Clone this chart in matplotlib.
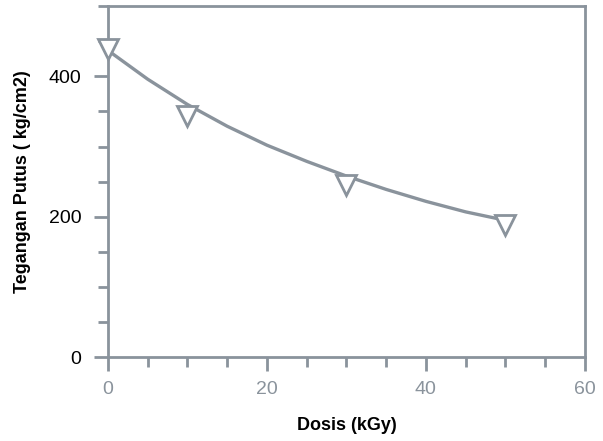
import numpy as np
import matplotlib
matplotlib.use('Agg')
import matplotlib.pyplot as plt
from matplotlib.ticker import MultipleLocator

# measured points
dose = [0, 10, 30, 50]
strength = [439, 343, 246, 188]

# fitted curve, every 5 kGy
curve_dose = [0, 5, 10, 15, 20, 25, 30, 35, 40, 45, 50]
curve_strength = [437, 396, 360, 329, 302, 279, 258, 239, 222, 207, 195]

gray = '#8a939c'
plt.rcParams['font.family'] = ['Liberation Sans', 'DejaVu Sans']

fig = plt.figure(figsize=(6.03, 4.41), dpi=100)
ax = fig.add_axes([0.179, 0.19, 0.791, 0.796])

ax.plot(curve_dose, curve_strength, color=gray, lw=2.4, zorder=2,
        solid_joinstyle='round')
ax.plot(dose, strength, linestyle='none', marker='v', markersize=14,
        markerfacecolor='white', markeredgecolor=gray, markeredgewidth=2, zorder=3,
        clip_on=False)

ax.set_xlim(0, 60)
ax.set_ylim(0, 500)
ax.xaxis.set_major_locator(MultipleLocator(20))
ax.xaxis.set_minor_locator(MultipleLocator(5))
ax.yaxis.set_major_locator(MultipleLocator(200))
ax.yaxis.set_minor_locator(MultipleLocator(50))

for s in ax.spines.values():
    s.set_color(gray)
    s.set_linewidth(2)

ax.tick_params(which='both', direction='out', color=gray, width=2)
ax.tick_params(which='major', length=10)
ax.tick_params(which='minor', length=7)
ax.tick_params(axis='x', labelcolor=gray, labelsize=14, pad=7)
ax.tick_params(axis='y', labelcolor='black', labelsize=14, pad=9)

ax.set_xlabel('Dosis (kGy)', fontsize=13, fontweight='bold', labelpad=14)
ax.set_ylabel('Tegangan Putus ( kg/cm2)', fontsize=13, fontweight='bold', labelpad=13)

fig.savefig('out.png', dpi=100)
